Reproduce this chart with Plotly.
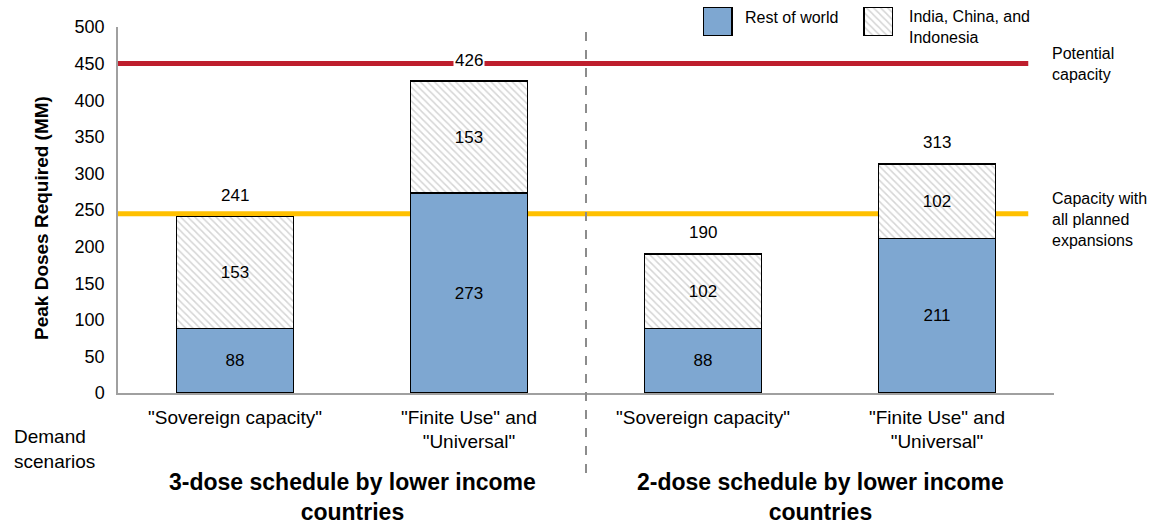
import plotly.graph_objects as go

# Demand scenarios (x categories) and stacked peak-dose requirements (millions)
scenarios = ['"Sovereign capacity"', '"Finite Use" and<br>"Universal"',
             '"Sovereign capacity"', '"Finite Use" and<br>"Universal"']
rest_of_world = [88, 273, 88, 211]
india_china_indonesia = [153, 153, 102, 102]
totals = [241, 426, 190, 313]

# Manufacturing capacity reference levels (millions of doses)
potential_capacity = 450
planned_capacity = 245

y_ticks = [0, 50, 100, 150, 200, 250, 300, 350, 400, 450, 500]
group_titles = ["3-dose schedule by lower income<br>countries",
                "2-dose schedule by lower income<br>countries"]

FONT = "Arial, Liberation Sans, sans-serif"
BLUE = "#7ea7d1"
RED = "#be1e2d"
YELLOW = "#ffc000"
x_idx = list(range(len(scenarios)))

hatch = dict(shape="\\", fgcolor="#ababab", bgcolor="white", size=5, solidity=0.3)

fig = go.Figure()
fig.add_trace(go.Bar(
    x=x_idx, y=rest_of_world, width=0.5, name="Rest of world",
    marker=dict(color=BLUE, line=dict(color="black", width=1.5)),
    text=rest_of_world, textposition="inside", insidetextanchor="middle",
    textfont=dict(family=FONT, size=17, color="black"), constraintext="none",
    showlegend=False,
))
fig.add_trace(go.Bar(
    x=x_idx, y=india_china_indonesia, width=0.5, name="India, China, and Indonesia",
    marker=dict(color="white", pattern=hatch, line=dict(color="black", width=1.5)),
    text=india_china_indonesia, textposition="inside", insidetextanchor="middle",
    textfont=dict(family=FONT, size=17, color="black"), constraintext="none",
    showlegend=False,
))

# Legend swatches drawn as bars on a small auxiliary axis pair
fig.add_trace(go.Bar(
    x=[0], y=[1], width=0.18, xaxis="x2", yaxis="y2", showlegend=False,
    marker=dict(color=BLUE, line=dict(color="black", width=1.5)), hoverinfo="skip",
))
fig.add_trace(go.Bar(
    x=[1], y=[1], width=0.18, xaxis="x2", yaxis="y2", showlegend=False,
    marker=dict(color="white", pattern=hatch, line=dict(color="black", width=1.5)),
    hoverinfo="skip",
))

fig.update_layout(barmode="stack")

# Capacity lines behind the bars
for level, color in [(potential_capacity, RED), (planned_capacity, YELLOW)]:
    fig.add_shape(type="line", xref="x", yref="y", x0=-0.5, x1=3.39, y0=level, y1=level,
                  line=dict(color=color, width=5), layer="below")

# Divider between the two dosing schedules
fig.add_shape(type="line", xref="paper", yref="paper", x0=0.5, x1=0.5, y0=0.9186, y1=-0.2137,
              line=dict(color="#8c8c8c", width=2, dash="dash"))

annotations = []
# Totals above each stack
for i, t in enumerate(totals):
    annotations.append(dict(x=i, y=t, xref="x", yref="y", text=str(t), showarrow=False,
                            yanchor="middle", yshift=21, bgcolor="white",
                            font=dict(family=FONT, size=17, color="black")))

# Capacity line labels
annotations.append(dict(x=0.9957, y=potential_capacity, xref="paper", yref="y",
                        text="Potential<br>capacity", showarrow=False, xanchor="left",
                        yanchor="middle", align="left",
                        font=dict(family=FONT, size=16, color="black")))
annotations.append(dict(x=0.9957, y=planned_capacity, xref="paper", yref="y",
                        text="Capacity with<br>all planned<br>expansions", showarrow=False,
                        xanchor="left", yanchor="middle", align="left", yshift=-6,
                        font=dict(family=FONT, size=16, color="black")))

# Legend labels
annotations.append(dict(x=0.6677, y=0.9567, xref="paper", yref="paper", text="Rest of world",
                        showarrow=False, xanchor="left", yanchor="middle", align="left",
                        font=dict(family=FONT, size=16, color="black")))
annotations.append(dict(x=0.843, y=0.9313, xref="paper", yref="paper",
                        text="India, China, and<br>Indonesia", showarrow=False,
                        xanchor="left", yanchor="middle", align="left",
                        font=dict(family=FONT, size=16, color="black")))

# Axis titles
annotations.append(dict(x=-0.0812, y=0.4453, xref="paper", yref="paper",
                        text="<b>Peak Doses Required (MM)</b>", textangle=-90, showarrow=False,
                        xanchor="center", yanchor="middle",
                        font=dict(family=FONT, size=19, color="black")))
annotations.append(dict(x=-0.113, y=-0.1425, xref="paper", yref="paper",
                        text="Demand<br>scenarios", showarrow=False, xanchor="left",
                        yanchor="middle", align="left",
                        font=dict(family=FONT, size=19, color="black")))

# Schedule group titles
for cx, title in zip([0.5, 2.5], group_titles):
    annotations.append(dict(x=cx, y=-0.3397, xref="x", yref="paper", text=f"<b>{title}</b>",
                            showarrow=False, xanchor="center", yanchor="bottom",
                            font=dict(family=FONT, size=23, color="black")))

fig.update_layout(
    width=1151, height=527,
    margin=dict(l=118, r=97, t=0, b=134, autoexpand=False),
    paper_bgcolor="white", plot_bgcolor="white",
    font=dict(family=FONT, color="black"),
    showlegend=False,
    bargap=0.5,
    xaxis=dict(
        range=[-0.5, 3.5], tickvals=x_idx, ticktext=scenarios, automargin=False,
        showgrid=False, zeroline=False, showline=True, linecolor="#a0a0a0", linewidth=1.5,
        ticks="", tickfont=dict(family=FONT, size=19, color="black"), ticklabelstandoff=6,
    ),
    yaxis=dict(
        domain=[0, 0.9313], range=[0, 500], tickvals=y_ticks, showgrid=False,
        automargin=False, zeroline=False, showline=True, linecolor="#a0a0a0", linewidth=1.5,
        ticks="", tickfont=dict(family=FONT, size=18, color="black"), ticklabelstandoff=8,
    ),
    xaxis2=dict(domain=[0.625, 0.828], range=[-0.0898, 1.0898], visible=False,
                anchor="y2", fixedrange=True, automargin=False),
    yaxis2=dict(domain=[0.9084, 0.9822], range=[0, 1], visible=False,
                anchor="x2", fixedrange=True, automargin=False),
    annotations=annotations,
)

fig.write_html("out.html")
